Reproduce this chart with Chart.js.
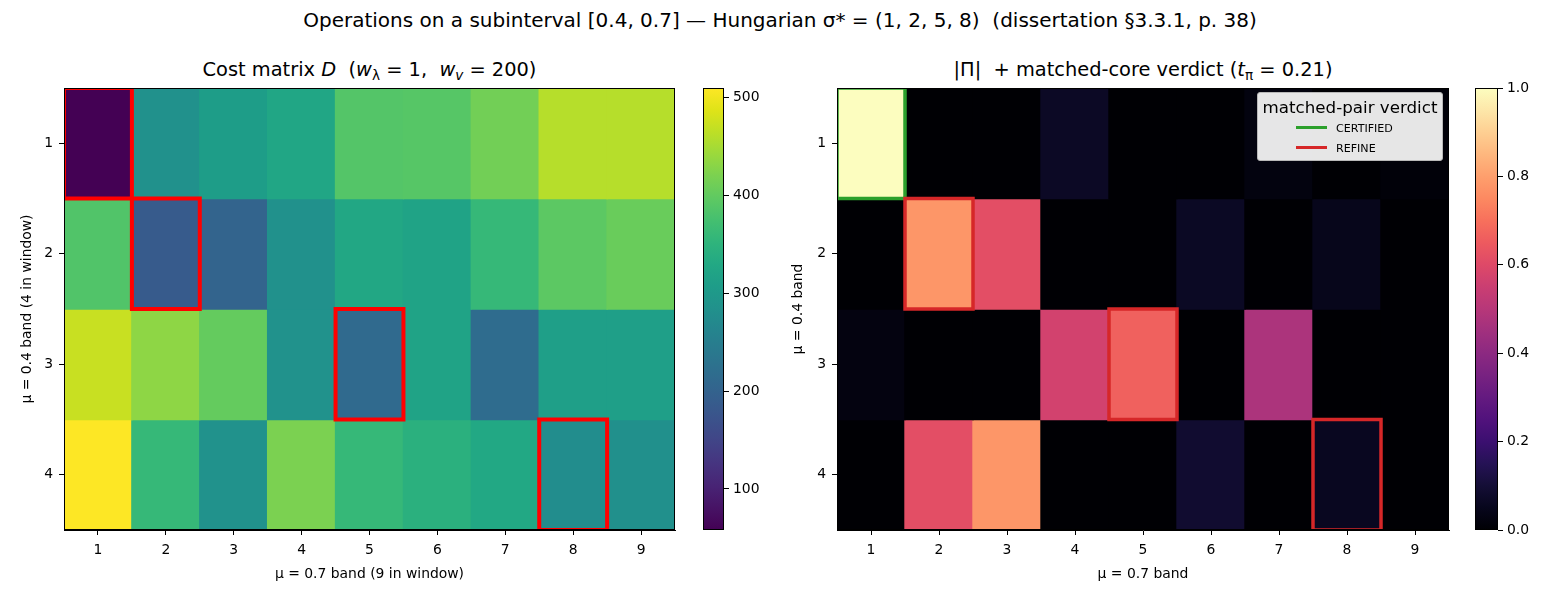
<!DOCTYPE html>
<html>
<head>
<meta charset="utf-8">
<script src="https://cdn.jsdelivr.net/npm/chart.js@4.4.1/dist/chart.umd.min.js"></script>
<style>
  body { margin: 0; background: #fff; }
  #fig { position: relative; width: 1560px; height: 600px; background: #fff; font-family: "DejaVu Sans", sans-serif; color: #000; }
  .ttl { position: absolute; white-space: pre; text-align: center; line-height: 24px; }
  .sup { font-size: 20px; left: 0; width: 1560px; top: 8px; }
  .sub { font-size: 19.4px; top: 58px; }
  .ttl sub { font-size: 70%; vertical-align: -4px; line-height: 0; }
  canvas { position: absolute; }
  #legend { position: absolute; left: 1257px; top: 92px; width: 184px; height: 67px;
            background: rgba(255,255,255,0.9); border: 1px solid #b8b8b8; border-radius: 3px; }
  #legend .lt { position: absolute; left: 0; width: 184px; top: 4px; text-align: center; font-size: 16.7px; line-height: 20px; }
  #legend .it { position: absolute; left: 38px; font-size: 11.1px; line-height: 14px; }
  #legend .ln { display: inline-block; width: 31px; height: 3.5px; margin-right: 9px; vertical-align: 3px; }
</style>
</head>
<body>
<div id="fig">
  <div class="ttl sup">Operations on a subinterval [0.4, 0.7] — Hungarian σ* = (1, 2, 5, 8)  (dissertation §3.3.1, p. 38)</div>
  <div class="ttl sub" style="left:64px;width:611px">Cost matrix <i>D</i>  (<i>w</i><sub>λ</sub> = 1,  <i>w</i><sub><i>v</i></sub> = 200)</div>
  <div class="ttl sub" style="left:837px;width:612px">|Π|  + matched-core verdict (<i>t</i><sub>π</sub> = 0.21)</div>

  <canvas id="heatD" width="690" height="520" style="left:0;top:80px"></canvas>
  <canvas id="cbarD" width="120" height="520" style="left:690px;top:80px"></canvas>
  <canvas id="heatP" width="690" height="520" style="left:780px;top:80px"></canvas>
  <canvas id="cbarP" width="100" height="520" style="left:1460px;top:80px"></canvas>

  <div id="legend">
    <div class="lt">matched-pair verdict</div>
    <div class="it" style="top:29px"><span class="ln" style="background:#2ca02c"></span>CERTIFIED</div>
    <div class="it" style="top:49px"><span class="ln" style="background:#d62728"></span>REFINE</div>
  </div>
</div>

<script>
// 行: μ = 0.4 band (4), 列: μ = 0.7 band (9)
const colLabels = ['1', '2', '3', '4', '5', '6', '7', '8', '9'];
const rowLabels = [1, 2, 3, 4];

// cost matrix D
const costD = [
  [58, 284, 309, 325, 388, 390, 413, 460, 460],
  [386, 187, 203, 284, 327, 320, 359, 395, 406],
  [472, 433, 402, 286, 212, 320, 216, 313, 313],
  [510, 359, 286, 420, 359, 345, 329, 277, 282],
];

// |Π|
const absPi = [
  [1.0, 0, 0, 0.068, 0, 0, 0.022, 0, 0.01],
  [0, 0.78, 0.615, 0, 0, 0.066, 0, 0.048, 0],
  [0.025, 0, 0, 0.57, 0.665, 0, 0.475, 0, 0],
  [0, 0.615, 0.78, 0, 0, 0.088, 0, 0.058, 0],
];

// Hungarian σ* and verdict per matched pair
const sigma = [1, 2, 5, 8];
const verdict = ['CERTIFIED', 'REFINE', 'REFINE', 'REFINE'];

const cbarTicksD = [100, 200, 300, 400, 500];
const cbarTicksP = [0, 0.2, 0.4, 0.6, 0.8, 1.0];

// colormaps
const VIRIDIS = ['#440154', '#471365', '#482475', '#463480', '#414487', '#3b528b', '#355f8d',
  '#2f6c8e', '#2a788e', '#25848e', '#21918c', '#1e9c89', '#22a884', '#2fb47c', '#44bf70',
  '#5ec962', '#7ad151', '#9bd93c', '#bddf26', '#dfe318', '#fde725'];
const MAGMA = ['#000004', '#07061c', '#140e36', '#251255', '#3b0f70', '#51127c', '#641a80',
  '#782281', '#8c2981', '#a1307e', '#b73779', '#ca3e72', '#de4968', '#ed5a5f', '#f7705c',
  '#fc8961', '#fe9f6d', '#feb77e', '#fecf92', '#fde7a9', '#fcfdbf'];

function hexRgb(h) {
  return [parseInt(h.slice(1, 3), 16), parseInt(h.slice(3, 5), 16), parseInt(h.slice(5, 7), 16)];
}

function cmap(stops, t) {
  t = Math.min(1, Math.max(0, t));
  const pos = t * (stops.length - 1);
  const i = Math.min(stops.length - 2, Math.floor(pos));
  const f = pos - i;
  const a = hexRgb(stops[i]), b = hexRgb(stops[i + 1]);
  const c = a.map((v, k) => Math.round(v + (b[k] - v) * f));
  return `rgb(${c[0]},${c[1]},${c[2]})`;
}

const FONT = { family: '"DejaVu Sans", sans-serif', size: 13.9 };

const frame = {
  id: 'frame',
  afterDraw(chart) {
    const { ctx, chartArea: a } = chart;
    ctx.save();
    ctx.strokeStyle = '#000';
    ctx.lineWidth = 1;
    ctx.strokeRect(Math.round(a.left) + 0.5, Math.round(a.top) + 0.5,
      Math.round(a.right - a.left) - 1, Math.round(a.bottom - a.top) - 1);
    ctx.restore();
  },
};

// 匹配框：线条居中压在格子边上（同 matplotlib Rectangle）
const outlines = {
  id: 'outlines',
  afterDatasetsDraw(chart) {
    const { ctx, chartArea: a } = chart;
    chart.data.datasets.forEach((ds, di) => {
      if (!ds.outline) return;
      const meta = chart.getDatasetMeta(di);
      ctx.save();
      ctx.beginPath();
      ctx.rect(a.left, a.top, a.right - a.left, a.bottom - a.top);
      ctx.clip();
      ctx.lineWidth = ds.outline;
      meta.data.forEach((el, j) => {
        if (ds.data[j] == null) return;
        const { x, y, base, width } = el.getProps(['x', 'y', 'base', 'width'], true);
        ctx.strokeStyle = ds.outlineColor[j];
        ctx.strokeRect(x - width / 2, Math.min(y, base), width, Math.abs(base - y));
      });
      ctx.restore();
    });
  },
};

function heatmap(id, values, stops, vmin, vmax, boxColors, boxWidth, opts) {
  const rows = values.map((row, r) => ({
    data: row.map(() => [r + 0.5, r + 1.5]),
    backgroundColor: row.map(v => cmap(stops, (v - vmin) / (vmax - vmin))),
    borderWidth: 0,
    inflateAmount: 0.7,
    barPercentage: 1,
    categoryPercentage: 1,
    grouped: false,
  }));

  const boxes = {
    data: colLabels.map((_, j) => {
      const r = sigma.indexOf(j + 1);
      return r < 0 ? null : [r + 0.5, r + 1.5];
    }),
    outline: boxWidth,
    outlineColor: colLabels.map((_, j) => boxColors[Math.max(0, sigma.indexOf(j + 1))]),
    backgroundColor: 'rgba(0,0,0,0)',
    borderWidth: 0,
    barPercentage: 1,
    categoryPercentage: 1,
    grouped: false,
    order: -1,
  };

  return new Chart(document.getElementById(id), {
    type: 'bar',
    data: { labels: colLabels, datasets: [...rows, boxes] },
    options: {
      responsive: false,
      animation: false,
      layout: { padding: { top: 8, right: opts.padRight, left: 0, bottom: 0 } },
      plugins: { legend: { display: false }, tooltip: { enabled: false } },
      scales: {
        x: {
          type: 'category',
          offset: true,
          grid: { drawOnChartArea: false, offset: false, tickLength: 5, color: '#000' },
          border: { color: '#000' },
          ticks: { color: '#000', font: FONT, padding: 7, maxRotation: 0 },
          title: { display: true, text: opts.xTitle, color: '#000', font: FONT, padding: { top: 0, bottom: 17 } },
          afterFit: s => { s.height = 70; s.paddingLeft = 0; s.paddingRight = 0; },
        },
        y: {
          type: 'linear',
          reverse: true,
          min: 0.5,
          max: 4.5,
          afterBuildTicks: s => { s.ticks = rowLabels.map(v => ({ value: v })); },
          grid: { drawOnChartArea: false, tickLength: 5, color: '#000' },
          border: { color: '#000' },
          ticks: { color: '#000', font: FONT, padding: 6, callback: v => String(v) },
          title: { display: true, text: opts.yTitle, color: '#000', font: FONT, padding: { top: opts.yTitlePad, bottom: 0 } },
          afterFit: s => { s.width = opts.yWidth; s.paddingTop = 0; s.paddingBottom = 0; },
        },
      },
    },
    plugins: [outlines, frame],
  });
}

function colorbar(id, stops, vmin, vmax, ticks, fmt, padLeft, axisWidth) {
  const grad = {
    id: 'grad',
    beforeDatasetsDraw(chart) {
      const { ctx, chartArea: a } = chart;
      const g = ctx.createLinearGradient(0, a.bottom, 0, a.top);
      stops.forEach((c, i) => g.addColorStop(i / (stops.length - 1), c));
      ctx.save();
      ctx.fillStyle = g;
      ctx.fillRect(a.left, a.top, a.right - a.left, a.bottom - a.top);
      ctx.restore();
    },
  };
  return new Chart(document.getElementById(id), {
    type: 'scatter',
    data: { datasets: [] },
    options: {
      responsive: false,
      animation: false,
      layout: { padding: { top: 8, bottom: 70, left: padLeft, right: 0 } },
      plugins: { legend: { display: false }, tooltip: { enabled: false } },
      scales: {
        x: { display: false, min: 0, max: 1 },
        y: {
          position: 'right',
          min: vmin,
          max: vmax,
          afterBuildTicks: s => { s.ticks = ticks.map(v => ({ value: v })); },
          grid: { drawOnChartArea: false, tickLength: 5, color: '#000' },
          border: { display: false },
          ticks: { color: '#000', font: FONT, padding: 4, callback: fmt },
          afterFit: s => { s.width = axisWidth; s.paddingTop = 0; s.paddingBottom = 0; },
        },
      },
    },
    plugins: [grad, frame],
  });
}

const dMin = Math.min(...costD.flat());
const dMax = Math.max(...costD.flat());

heatmap('heatD', costD, VIRIDIS, dMin, dMax, ['#ff0000', '#ff0000', '#ff0000', '#ff0000'], 4, {
  xTitle: 'μ = 0.7 band (9 in window)',
  yTitle: 'μ = 0.4 band (4 in window)',
  yTitlePad: 19,
  yWidth: 64,
  padRight: 15,
});
colorbar('cbarD', VIRIDIS, dMin, dMax, cbarTicksD, v => String(v), 13, 86);

const verdictColor = { CERTIFIED: '#2ca02c', REFINE: '#d62728' };
heatmap('heatP', absPi, MAGMA, 0, 1, verdict.map(v => verdictColor[v]), 3.5, {
  xTitle: 'μ = 0.7 band',
  yTitle: 'μ = 0.4 band',
  yTitlePad: 10,
  yWidth: 57,
  padRight: 21,
});
colorbar('cbarP', MAGMA, 0, 1, cbarTicksP, v => v.toFixed(1), 15, 62);
</script>
</body>
</html>
